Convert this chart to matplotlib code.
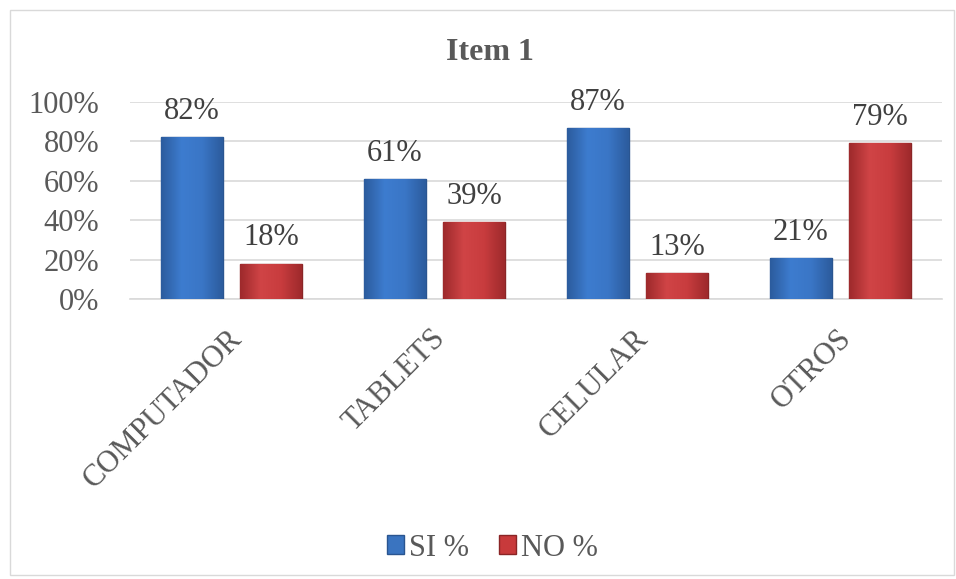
import matplotlib
matplotlib.use('Agg')
import matplotlib.pyplot as plt
import numpy as np
from matplotlib.colors import LinearSegmentedColormap
from matplotlib.patches import Patch, Rectangle
from matplotlib.transforms import ScaledTranslation

categories = ['COMPUTADOR', 'TABLETS', 'CELULAR', 'OTROS']
si_pct = [82, 61, 87, 21]
no_pct = [18, 39, 13, 79]
series_names = ['SI %', 'NO %']
yticks = [0, 20, 40, 60, 80, 100]
ytick_labels = ['0%', '20%', '40%', '60%', '80%', '100%']

plt.rcParams['font.family'] = ['Liberation Serif', 'DejaVu Serif']

blue, blue_edge = '#3a74c0', '#2a5590'
red, red_edge = '#c83a3b', '#8a2526'
blue_cm = LinearSegmentedColormap.from_list('b', ['#2c5c9e', '#3d7ccf', '#3a76c6', '#2c5c9e'])
red_cm = LinearSegmentedColormap.from_list('r', ['#9e2a2c', '#d04446', '#c83c3e', '#9e2a2c'])

fig = plt.figure(figsize=(9.56, 5.79), dpi=100)
# outer chart border
fig.patches.append(Rectangle((10 / 956, 4 / 579), 944 / 956, 565 / 579,
                             transform=fig.transFigure, fill=False,
                             edgecolor='#d9d9d9', linewidth=1))

ax = fig.add_axes([130 / 956, 1 - 299 / 579, 812 / 956, 197 / 579])

x = list(range(len(categories)))
w = 0.305
off = 0.195
b1 = ax.bar([i - off for i in x], si_pct, width=w, color=blue, edgecolor=blue_edge, linewidth=1.0, zorder=3)
b2 = ax.bar([i + off for i in x], no_pct, width=w, color=red, edgecolor=red_edge, linewidth=1.0, zorder=3)

# soft shading inside each bar
grad = np.linspace(0, 1, 64).reshape(1, -1)
for bars, cm in ((b1, blue_cm), (b2, red_cm)):
    for bar in bars:
        x0, y0 = bar.get_x(), bar.get_y()
        im = ax.imshow(grad, cmap=cm, aspect='auto', zorder=3.5,
                       extent=(x0, x0 + bar.get_width(), y0, y0 + bar.get_height()))
        im.set_clip_path(bar)

for bars, vals in ((b1, si_pct), (b2, no_pct)):
    for bar, v in zip(bars, vals):
        ax.annotate(f'{v}%', (bar.get_x() + bar.get_width() / 2, v),
                    xytext=(0, 13), textcoords='offset points',
                    ha='center', va='baseline', fontsize=22, color='#404040')

ax.set_xlim(-0.5, len(categories) - 0.5)
ax.set_ylim(0, 100)
ax.set_yticks(yticks)
ax.set_yticklabels(ytick_labels, fontsize=22, color='#595959')
ax.set_xticks(x)
ax.set_xticklabels(categories, fontsize=22, color='#595959', rotation=45,
                   ha='right', rotation_mode='anchor')
ax.tick_params(axis='both', length=0)
ax.tick_params(axis='y', pad=22)
ax.tick_params(axis='x', pad=18)
for lbl in ax.get_xticklabels():
    lbl.set_transform(lbl.get_transform() + ScaledTranslation(-4 / 100, 0, fig.dpi_scale_trans))

ax.grid(axis='y', color='#d9d9d9', linewidth=1.2, zorder=0)
for s in ['top', 'right', 'left']:
    ax.spines[s].set_visible(False)
ax.spines['bottom'].set_color('#d9d9d9')
ax.spines['bottom'].set_linewidth(1.2)

fig.text(0.512, 1 - 53 / 579, 'Item 1', ha='center', va='center',
         fontsize=23, fontweight='bold', color='#595959')

handles = [Patch(facecolor=blue, edgecolor=blue_edge), Patch(facecolor=red, edgecolor=red_edge)]
fig.legend(handles, series_names, loc='center', bbox_to_anchor=(0.515, 1 - 548 / 579),
           ncol=2, frameon=False, fontsize=22, handlelength=0.55, handleheight=0.55,
           handletextpad=0.15, columnspacing=1.0, labelcolor='#595959')

fig.savefig('out.png', dpi=100)
